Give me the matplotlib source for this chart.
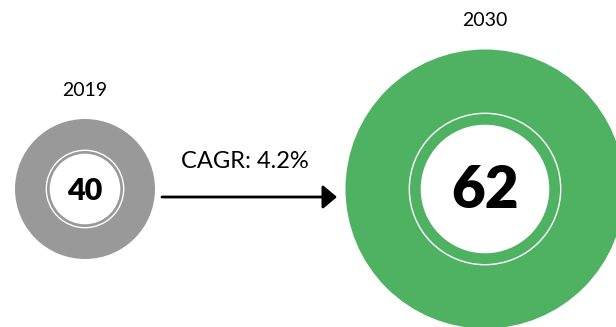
import matplotlib
matplotlib.use("Agg")
import matplotlib.pyplot as plt
from matplotlib.patches import Circle

years = ["2019", "2030"]
values = [40, 62]
cagr_label = "CAGR: 4.2%"

colors = ["#999999", "#4eb262"]
centers = [(85, 189), (485, 189)]
outer_r = [70, 139.5]
line_r = [38.7, 75.7]
inner_r = [35.3, 64.3]
value_sizes = [22, 42]
value_dy = [2, 1]
year_y = [91, 20]

fig = plt.figure(figsize=(6.16, 3.27), dpi=100)
ax = fig.add_axes([0, 0, 1, 1])
ax.set_xlim(0, 616)
ax.set_ylim(327, 0)
ax.set_aspect("equal")
ax.axis("off")

for i in range(2):
    cx, cy = centers[i]
    ax.add_patch(Circle((cx, cy), outer_r[i], color=colors[i], lw=0))
    ax.add_patch(Circle((cx, cy), line_r[i], fill=False, ec="white", lw=1.0))
    ax.add_patch(Circle((cx, cy), inner_r[i], color="white", lw=0))
    ax.text(cx, cy + value_dy[i], str(values[i]), ha="center", va="center",
            fontsize=value_sizes[i], fontweight="heavy", family=["Lato", "DejaVu Sans"], color="black")
    ax.text(cx, year_y[i], years[i], ha="center", va="center",
            fontsize=14, family=["Lato", "DejaVu Sans"], color="black")

ax.annotate("", xy=(337, 197), xytext=(162, 197),
            arrowprops=dict(arrowstyle="-|>,head_length=0.43,head_width=0.36", mutation_scale=20,
                            color="black", lw=2, shrinkA=0, shrinkB=0))
ax.text(245, 162, cagr_label, ha="center", va="center", fontsize=17,
        family=["Lato", "DejaVu Sans"], color="black")

fig.savefig("out.png", dpi=100)
